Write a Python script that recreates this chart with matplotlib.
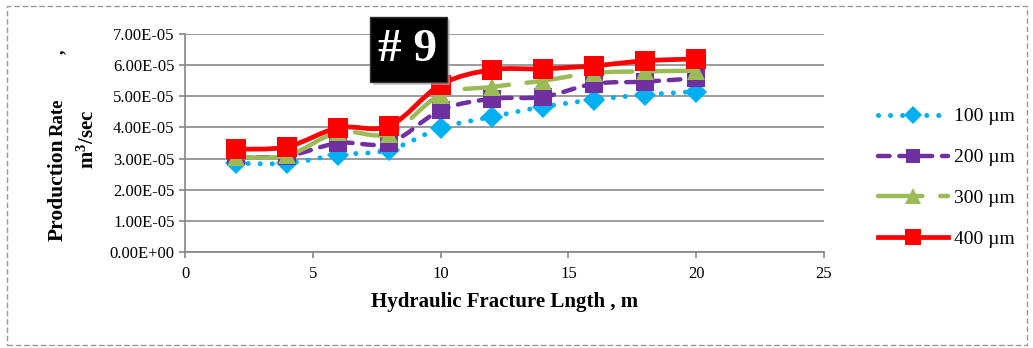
import numpy as np
import matplotlib
matplotlib.use("Agg")
import matplotlib.pyplot as plt
from matplotlib.path import Path
from matplotlib.patches import PathPatch, Rectangle
from matplotlib.lines import Line2D
from matplotlib.ticker import FuncFormatter, MultipleLocator

plt.rcParams['font.family'] = ['Liberation Serif', 'DejaVu Serif']
plt.rcParams['mathtext.fontset'] = 'custom'
plt.rcParams['mathtext.rm'] = 'Liberation Serif'
plt.rcParams['mathtext.bf'] = 'Liberation Serif:bold'

# fracture length (m) and production rate (m3/sec) for each fracture width
length = [2, 4, 6, 8, 10, 12, 14, 16, 18, 20]
q100 = [2.85e-5, 2.85e-5, 3.12e-5, 3.28e-5, 3.98e-5, 4.34e-5, 4.66e-5, 4.89e-5, 5.05e-5, 5.15e-5]
q200 = [3.05e-5, 3.08e-5, 3.50e-5, 3.50e-5, 4.55e-5, 4.92e-5, 4.98e-5, 5.40e-5, 5.47e-5, 5.58e-5]
q300 = [3.05e-5, 3.10e-5, 3.85e-5, 3.80e-5, 5.05e-5, 5.30e-5, 5.50e-5, 5.75e-5, 5.80e-5, 5.82e-5]
q400 = [3.30e-5, 3.38e-5, 3.99e-5, 4.05e-5, 5.37e-5, 5.85e-5, 5.88e-5, 5.98e-5, 6.14e-5, 6.20e-5]
labels = ["100 \u00b5m", "200 \u00b5m", "300 \u00b5m", "400 \u00b5m"]

W, H = 1033, 348
fig = plt.figure(figsize=(W / 100, H / 100), dpi=100, facecolor="white")
ax = fig.add_axes([185 / W, 1 - 252 / H, (824 - 185) / W, (252 - 34) / H])


def smooth_path(x, y):
    # Catmull-Rom style bezier through the points (like excel smoothed lines)
    P = np.column_stack([x, y]).astype(float)
    n = len(P)
    verts = [P[0]]
    codes = [Path.MOVETO]
    for i in range(n - 1):
        p0 = P[i - 1] if i > 0 else P[i]
        p1 = P[i]
        p2 = P[i + 1]
        p3 = P[i + 2] if i + 2 < n else P[i + 1]
        verts += [p1 + (p2 - p0) / 6, p2 - (p3 - p1) / 6, p2]
        codes += [Path.CURVE4] * 3
    return Path(verts, codes)


series = [
    (q100, "#00B0F0", (0, (0.01, 2.4)), 3.6, "D", 11.5),
    (q200, "#7030A0", (0, (2.6, 2.2)), 3.2, "s", 12.5),
    (q300, "#9BBB59", (0, (10, 4)), 3.2, "^", 13.5),
    (q400, "#FF0000", "-", 3.4, "s", 14),
]

handles = []
for k, (q, col, ls, lw, mk, ms) in enumerate(series):
    patch = PathPatch(smooth_path(length, q), fill=False, edgecolor=col,
                      linewidth=lw, linestyle=ls, capstyle="round",
                      joinstyle="round", zorder=3 + k)
    ax.add_patch(patch)
    ax.plot(length, q, linestyle="none", marker=mk, markersize=ms,
            color=col, markeredgewidth=0, zorder=3.5 + k)
    handles.append(Line2D([], [], color=col, linestyle=ls, linewidth=lw,
                          dash_capstyle="round", marker=mk, markersize=ms - 2,
                          markeredgewidth=0))

ax.set_xlim(0, 25)
ax.set_ylim(0, 7e-5)
ax.xaxis.set_major_locator(MultipleLocator(5))
ax.yaxis.set_major_locator(MultipleLocator(1e-5))
ax.yaxis.set_major_formatter(FuncFormatter(lambda v, p: f"{v:.2E}"))
ax.grid(axis="y", color="#8a8a8a", linewidth=1.2)
ax.set_axisbelow(True)
for s in ["top", "right"]:
    ax.spines[s].set_visible(False)
for s in ["left", "bottom"]:
    ax.spines[s].set_color("#868686")
    ax.spines[s].set_linewidth(1.2)
ax.tick_params(axis="both", colors="#868686", length=4, width=1.2,
               labelsize=12, labelcolor="black")
ax.tick_params(axis="x", pad=6)

ax.set_xlabel("Hydraulic Fracture Lngth , m", fontsize=15,
              fontweight="bold", labelpad=7)

# y label built from pieces of different size, sharing one baseline
ylab = dict(rotation=90, rotation_mode="anchor", fontweight="bold",
            ha="center", va="baseline")
fig.text(63 / W, 1 - 190 / H, "Production", fontsize=15.5, **ylab)
fig.text(63 / W, 1 - 117 / H, "Rate", fontsize=13.5, **ylab)
fig.text(63 / W, 1 - 52 / H, ",", fontsize=13, **ylab)
fig.text(94 / W, 1 - 139 / H, r"$\mathbf{m^3/sec}$", fontsize=15, **ylab)

leg = fig.legend(handles, labels, loc="center left",
                 bbox_to_anchor=(860 / W, 1 - 178 / H), frameon=False,
                 fontsize=14, handlelength=3.6, handletextpad=0.35,
                 labelspacing=1.2, numpoints=1)

# "# 9" tag
fig.patches.append(Rectangle((373 / W, 1 - 85 / H), 77 / W, 65 / H,
                             transform=fig.transFigure, facecolor="#b0b0b0",
                             edgecolor="none", alpha=0.6, zorder=9))
fig.patches.append(Rectangle((370 / W, 1 - 82 / H), 77 / W, 65 / H,
                             transform=fig.transFigure, facecolor="black",
                             edgecolor="#333333", zorder=10))
fig.text(408 / W, 1 - 50 / H, "# 9", color="white", fontsize=34,
         fontweight="bold", ha="center", va="center", zorder=11)

# dashed outer frame
fig.patches.append(Rectangle((7 / W, 1 - 345 / H), 1020 / W, 339 / H,
                             transform=fig.transFigure, fill=False,
                             edgecolor="#999999", linewidth=1.0,
                             linestyle=(0, (4, 2)), zorder=0))

fig.savefig("out.png", dpi=100, facecolor="white")
